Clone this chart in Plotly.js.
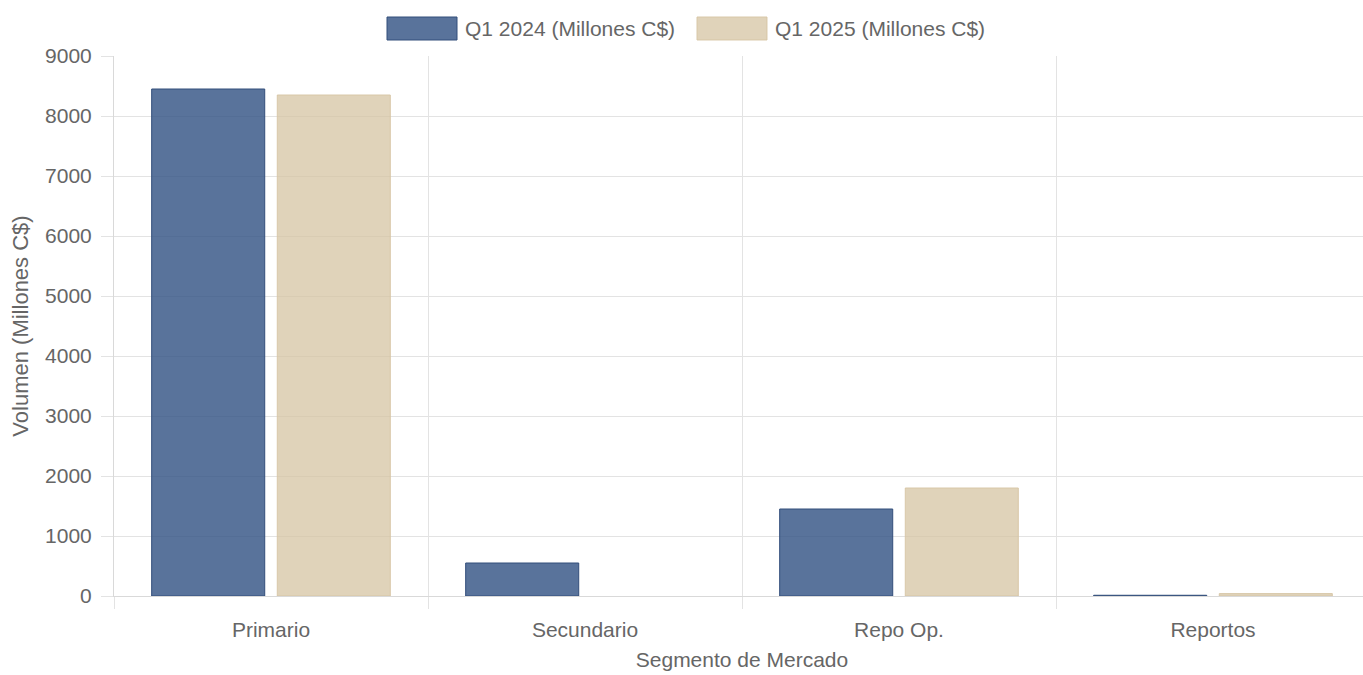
<!DOCTYPE html>
<html>
<head>
<meta charset="utf-8">
<script src="https://cdn.plot.ly/plotly-3.0.1.min.js"></script>
<style>
  html, body { margin: 0; padding: 0; background: #ffffff; overflow: hidden; width: 1363px; height: 675px; }
  #chart { width: 1371px; height: 675px; }
</style>
</head>
<body>
<div id="chart"></div>
<script>
const categories = ["Primario", "Secundario", "Repo Op.", "Reportos"];
const seriesNames = ["Q1 2024 (Millones C$)", "Q1 2025 (Millones C$)"];
const q1_2024 = [8450, 550, 1450, 12];
const q1_2025 = [8350, 0, 1800, 40];
const yTicks = [0, 1000, 2000, 3000, 4000, 5000, 6000, 7000, 8000, 9000];
const xTitle = "Segmento de Mercado";
const yTitle = "Volumen (Millones C$)";

const W = 1371, H = 675;
const M = { l: 114, r: 1, t: 56, b: 79 };
const plotW = W - M.l - M.r, plotH = H - M.t - M.b;
const px = x => (x - M.l) / plotW;           // pixel -> paper x
const py = y => (H - M.b - y) / plotH;       // pixel -> paper y

const fontFam = "Arial, 'Liberation Sans', sans-serif";
const FS = 21;
const txtColor = "#666666";
const fills = ["rgba(53,84,133,0.82)", "rgba(214,196,163,0.75)"];
const lines = ["rgba(50,78,122,1)", "rgba(214,196,163,0.9)"];

const traces = [q1_2024, q1_2025].map((vals, i) => ({
  type: "bar",
  name: seriesNames[i],
  x: categories,
  y: vals,
  marker: { color: fills[i], line: { color: lines[i], width: vals.map(v => v > 0 ? 1 : 0) } },
  hoverinfo: "x+y+name"
}));

// Chart.js-like legend: wide colour boxes + labels
const legendBoxes = [[387, 457], [697, 767]];
const shapes = legendBoxes.map((b, i) => ({
  type: "rect", xref: "paper", yref: "paper",
  x0: px(b[0]), x1: px(b[1]), y0: py(40), y1: py(17),
  fillcolor: fills[i], line: { color: lines[i], width: 1 }
}));
const annotations = legendBoxes.map((b, i) => ({
  xref: "paper", yref: "paper", x: px(b[1] + 6), y: py(28.5),
  xanchor: "left", yanchor: "middle", showarrow: false,
  text: seriesNames[i], font: { family: fontFam, size: FS, color: txtColor }
}));

const layout = {
  width: W, height: H,
  margin: M,
  paper_bgcolor: "#ffffff", plot_bgcolor: "#ffffff",
  showlegend: false,
  barmode: "group", bargap: 0.2, bargroupgap: 0.1,
  font: { family: fontFam, size: FS, color: txtColor },
  xaxis: {
    type: "category",
    tickson: "boundaries",
    ticks: "outside", ticklen: 12, tickcolor: "#e3e3e3",
    ticklabelstandoff: 15,
    showgrid: true, gridcolor: "#e3e3e3", gridwidth: 1,
    showline: true, linecolor: "#d9d9d9",
    tickfont: { family: fontFam, size: FS, color: txtColor },
    title: { text: xTitle, font: { family: fontFam, size: FS, color: txtColor }, standoff: 12 },
    automargin: false
  },
  yaxis: {
    range: [0, 9000],
    tickvals: yTicks,
    ticktext: yTicks.map(String),
    ticks: "outside", ticklen: 12, tickcolor: "#e3e3e3",
    ticklabelstandoff: 5,
    showgrid: true, gridcolor: "#e3e3e3", gridwidth: 1,
    showline: true, linecolor: "#d9d9d9",
    zeroline: true, zerolinecolor: "#d0d0d0",
    tickfont: { family: fontFam, size: FS, color: txtColor },
    title: { text: yTitle, font: { family: fontFam, size: 22, color: txtColor }, standoff: 10 },
    automargin: false
  },
  shapes: shapes,
  annotations: annotations
};

Plotly.newPlot("chart", traces, layout, { displayModeBar: false, staticPlot: true });
</script>
</body>
</html>
